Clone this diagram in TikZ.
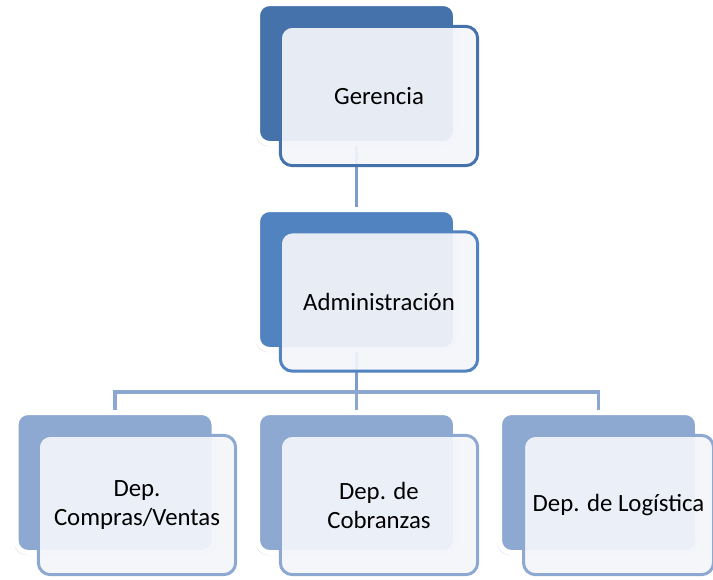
\documentclass[tikz,border=0pt]{standalone}
\usepackage{fontspec}
\setmainfont{Carlito}
\usetikzlibrary{shadows,backgrounds}
\definecolor{topdark}{HTML}{4672AB}
\definecolor{middark}{HTML}{5183C1}
\definecolor{botback}{HTML}{8DA8D1}
\definecolor{frontfill}{HTML}{F3F5FA}
\definecolor{topline}{HTML}{7C9CCB}
\definecolor{botline}{HTML}{8CA7D0}
\begin{document}
\begin{tikzpicture}[x=0.75pt,y=-0.75pt,
  backbox/.style={fill=#1, draw=white, line width=3.75pt, rounded corners=9pt,
    minimum width=148.5pt, minimum height=105pt, inner sep=0pt,
    drop shadow={opacity=0.18, shadow xshift=-1.5pt, shadow yshift=-2pt}},
  frontbox/.style={fill=frontfill, fill opacity=0.93, text opacity=1, draw=#1,
    line width=2.25pt, rounded corners=9pt,
    minimum width=148pt, minimum height=104.5pt, inner sep=0pt,
    align=center, font=\fontsize{18.6}{21.75}\selectfont},
  conn/.style={draw=#1, line width=2.6pt}]
\useasboundingbox (0,0) rectangle (713,579);
% back boxes
\node[backbox=topdark] (gb) at (356.5,73.5) {};
\node[backbox=middark] (ab) at (356.5,279.5) {};
\node[backbox=botback] (lb) at (115,482.5) {};
\node[backbox=botback] (mb) at (356.5,482.5) {};
\node[backbox=botback] (rb) at (598.5,482.5) {};
\coordinate (hub) at (356.5,392);
% connectors behind
\begin{pgfonlayer}{background}
\draw[conn=topline] (gb.center) -- (ab.center);
\draw[conn=topline] (ab.center) -- (hub);
\draw[conn=botline] (lb.center) |- (hub) -| (rb.center);
\draw[conn=botline] (hub) -- (mb.center);
\end{pgfonlayer}
% front boxes
\node[frontbox=topdark] (gf) at (379,96) {Gerencia};
\node[frontbox=middark] (af) at (379,301.5) {Administración};
\node[frontbox=botback] (lf) at (137,505) {Dep.\\Compras/Ventas};
\node[frontbox=botback] (mf) at (379,505) {Dep. de\\Cobranzas};
\node[frontbox=botback, minimum width=142.5pt] (rf) at (618.5,505) {Dep. de Logística};
\end{tikzpicture}
\end{document}
